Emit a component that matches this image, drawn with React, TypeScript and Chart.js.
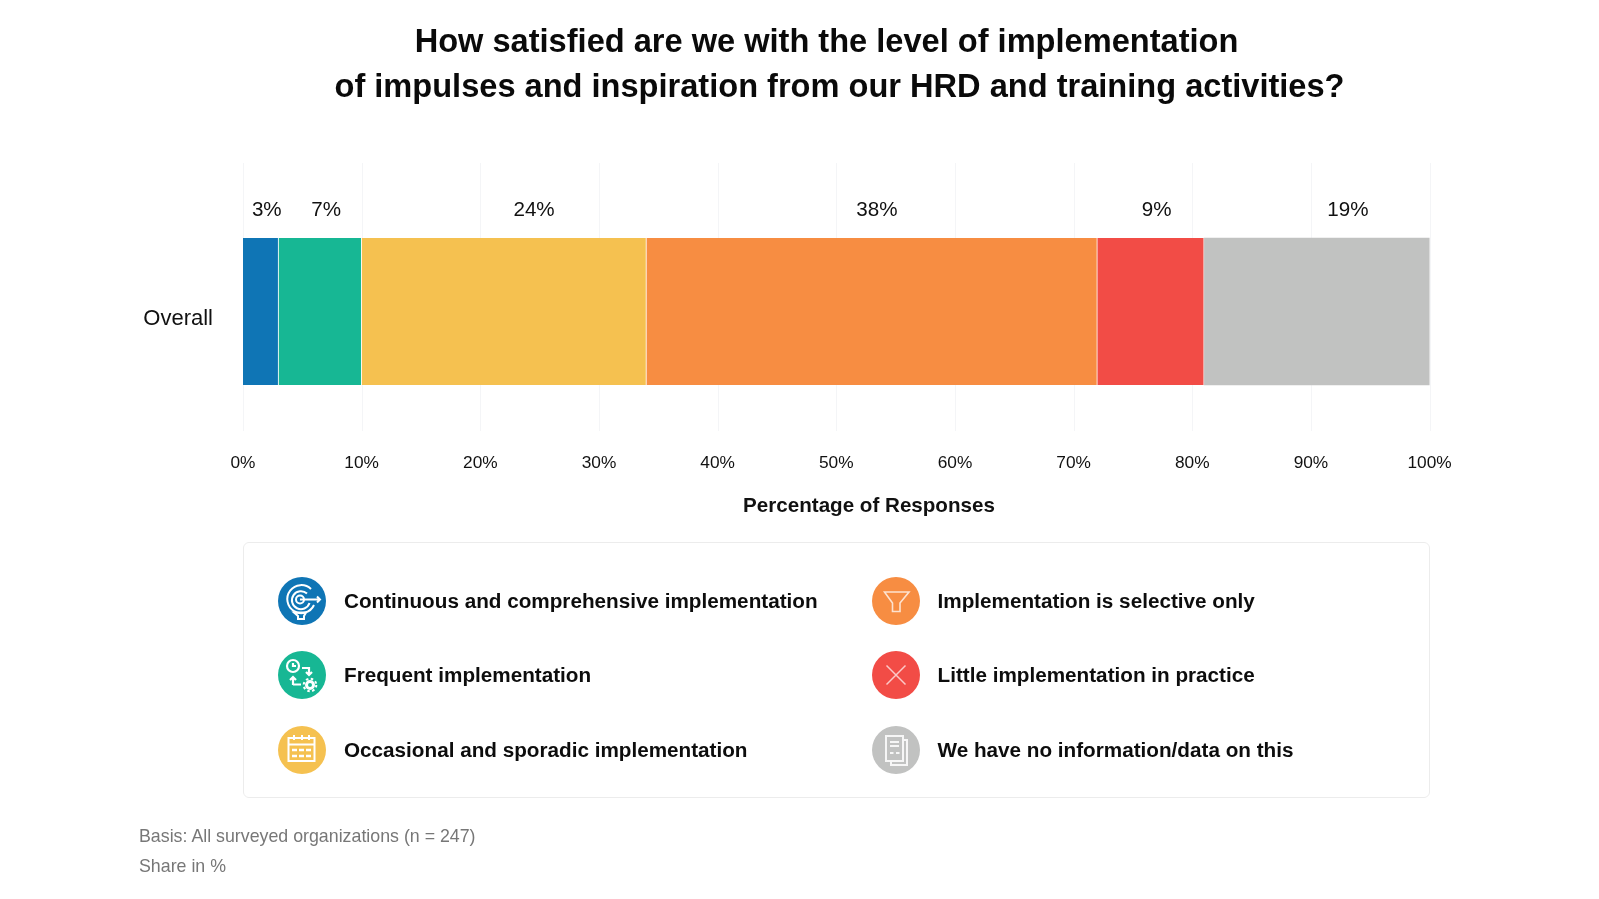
import { useEffect, useRef } from "react"
import { Chart, registerables } from "chart.js"

Chart.register(...registerables)

const FONT = '"Liberation Sans", Arial, sans-serif'

const categories = ["Overall"]
const tickStep = 10
const continuous = [3]
const frequent = [7]
const occasional = [24]
const selective = [38]
const little = [9]
const noData = [19]

const seriesNames = [
  "Continuous and comprehensive implementation",
  "Frequent implementation",
  "Occasional and sporadic implementation",
  "Implementation is selective only",
  "Little implementation in practice",
  "We have no information/data on this",
]
const seriesValues = [continuous, frequent, occasional, selective, little, noData]
const seriesColors = ["#0f75b5", "#17b794", "#f5c150", "#f78d42", "#f24c46", "#c1c2c1"]

// the value labels are not centred on their segments in the original
const labelShift = [6, 6, 30, 5, 6, 31]

const titleLines = [
  "How satisfied are we with the level of implementation",
  "of impulses and inspiration from our HRD and training activities?",
]
const axisTitle = "Percentage of Responses"
const footnotes = ["Basis: All surveyed organizations (n = 247)", "Share in %"]

const PLOT_LEFT = 243
const PLOT_RIGHT = 1429.6
const PLOT_TOP = 192
const PLOT_BOTTOM = 431
const GRID_TOP = 163

const segmentLabels = {
  id: "segmentLabels",
  afterDatasetsDraw(chart: Chart) {
    const { ctx } = chart
    ctx.save()
    ctx.font = `20.6px ${FONT}`
    ctx.fillStyle = "#111"
    ctx.textAlign = "center"
    ctx.textBaseline = "middle"
    chart.data.datasets.forEach((ds, i) => {
      const bar: any = chart.getDatasetMeta(i).data[0]
      ctx.fillText(`${ds.data[0]}%`, (bar.x + bar.base) / 2 + labelShift[i], 210.5)
    })
    ctx.restore()
  },
}

// grid lines run above the plot area, past the value labels
const tallGrid = {
  id: "tallGrid",
  beforeDatasetsDraw(chart: Chart) {
    const { ctx, scales, chartArea } = chart
    ctx.save()
    ctx.strokeStyle = "#f4f5f7"
    ctx.lineWidth = 1
    scales.x.ticks.forEach((t) => {
      const x = Math.round(scales.x.getPixelForValue(t.value)) + 0.5
      ctx.beginPath()
      ctx.moveTo(x, GRID_TOP)
      ctx.lineTo(x, chartArea.bottom)
      ctx.stroke()
    })
    ctx.restore()
  },
}

function Icon({ index }: { index: number }) {
  const s = { fill: "none", stroke: "#fff" }
  const shapes = [
    <g {...s} key="target" strokeWidth={2}>
      <path d="M33 12 a14 14 0 1 0 3 16" />
      <path d="M29 16.5 a9 9 0 1 0 2.5 9.5" />
      <circle cx="22" cy="22.5" r="4" />
      <path d="M22 22.5 H42 M39 19.5 l3 3 -3 3" />
      <path d="M16 35.5 H28 L26 39 V42 H20 V39 Z" />
    </g>,
    <g {...s} key="clock" strokeWidth={2.2}>
      <circle cx="15" cy="15" r="6" />
      <path d="M15 12 v3 h3 M24 17 h7 v7 M28 21 l3 3 3 -3" />
      <path d="M15 34 v-7 M12 29 l3 -3 3 3 M15 33.5 h8" />
      <circle cx="32" cy="34" r="3.5" strokeWidth={3} />
      <circle cx="32" cy="34" r="6.3" strokeWidth={2} strokeDasharray="2.5 2.45" />
    </g>,
    <g {...s} key="calendar" strokeWidth={2}>
      <rect x="10.5" y="12" width="26" height="23" />
      <path d="M10.5 18.5 H36.5 M16 9 v5 M24 9 v5 M31 9 v5" />
      <path d="M14 24 h5 M21 24 h5 M28 24 h5 M14 30 h5 M21 30 h5 M28 30 h5" strokeWidth={2.6} />
    </g>,
    <path {...s} key="funnel" strokeWidth={1.6} strokeOpacity={0.75} d="M12.5 15 H37 L28 26 V34.5 H20.5 V26 Z" />,
    <path {...s} key="cross" strokeWidth={1.5} strokeOpacity={0.7} d="M14.5 14.5 L33.5 33.5 M33.5 14.5 L14.5 33.5" />,
    <g {...s} key="doc" strokeWidth={2} strokeOpacity={0.85}>
      <path d="M14 10 H31 V35 H14 Z M31 14 H35 V39 H19 V35" />
      <path d="M18 16 H27 M18 20 H27 M18 27 h3.5 M24 27 h3.5" />
    </g>,
  ]
  return (
    <svg width={48} height={48} viewBox="0 0 48 48" style={{ position: "absolute", left: -24, top: -24 }}>
      <circle cx="24" cy="24" r="24" fill={seriesColors[index]} />
      {shapes[index]}
    </svg>
  )
}

const legendCols = [302, 895.5]
const legendRows = [601, 675, 750]

export default function App() {
  const chartRef = useRef<HTMLCanvasElement>(null)

  useEffect(() => {
    if (!chartRef.current) return
    const chart = new Chart(chartRef.current, {
      type: "bar",
      data: {
        labels: categories,
        datasets: seriesNames.map((name, i) => ({
          label: name,
          data: seriesValues[i],
          backgroundColor: seriesColors[i],
          borderColor: "rgba(255,255,255,0.4)",
          borderWidth: { left: 0, right: i < seriesNames.length - 1 ? 1 : 0, top: 0, bottom: 0 },
          borderSkipped: false,
          barThickness: 147,
        })),
      },
      options: {
        indexAxis: "y",
        responsive: false,
        animation: false,
        layout: { padding: { top: PLOT_TOP, right: 1599 - PLOT_RIGHT, left: 0, bottom: 0 } },
        plugins: { legend: { display: false }, title: { display: false }, tooltip: { enabled: false } },
        scales: {
          x: {
            stacked: true,
            min: 0,
            max: 100,
            afterFit: (s: any) => {
              s.height = 899 - PLOT_BOTTOM
            },
            border: { display: false },
            grid: { display: false, drawTicks: false },
            ticks: {
              stepSize: tickStep,
              padding: 22,
              maxRotation: 0,
              color: "#111",
              font: { family: FONT, size: 17.3 },
              callback: (v: any) => `${v}%`,
            },
          },
          y: {
            stacked: true,
            afterFit: (s: any) => {
              s.width = PLOT_LEFT
            },
            border: { display: false },
            grid: { display: false, drawTicks: false },
            ticks: {
              padding: 30,
              labelOffset: 7,
              color: "#111",
              font: { family: FONT, size: 22 },
            },
          },
        },
      },
      plugins: [tallGrid, segmentLabels],
    })
    return () => chart.destroy()
  }, [])

  const abs = { position: "absolute" as const, fontFamily: FONT, whiteSpace: "nowrap" as const }

  return (
    <div style={{ position: "absolute", left: 0, top: 0, width: 1599, height: 899, background: "#fff", overflow: "hidden" }}>
      <canvas ref={chartRef} width={1599} height={899} style={{ position: "absolute", left: 0, top: 0 }} />
      {titleLines.map((line, i) => (
        <div
          key={line}
          style={{
            ...abs,
            left: i === 0 ? 826.5 : 839.5,
            top: 41 + i * 45,
            transform: "translate(-50%, -50%)",
            fontSize: 32.6,
            fontWeight: 700,
            color: "#0a0a0a",
          }}
        >
          {line}
        </div>
      ))}
      <div style={{ ...abs, left: 869, top: 505, transform: "translate(-50%, -50%)", fontSize: 20.6, fontWeight: 700, color: "#111" }}>
        {axisTitle}
      </div>
      <div
        style={{
          position: "absolute",
          left: 243,
          top: 541.5,
          width: 1187,
          height: 256,
          boxSizing: "border-box",
          border: "1px solid #ececec",
          borderRadius: 6,
        }}
      />
      {seriesNames.map((name, i) => {
        const col = legendCols[i < 3 ? 0 : 1]
        const row = legendRows[i % 3]
        return (
          <div key={name}>
            <div style={{ position: "absolute", left: col, top: row }}>
              <Icon index={i} />
            </div>
            <div
              style={{
                ...abs,
                left: col + 42,
                top: row,
                transform: "translateY(-50%)",
                fontSize: 20.7,
                fontWeight: 700,
                color: "#0d0d0d",
              }}
            >
              {name}
            </div>
          </div>
        )
      })}
      {footnotes.map((line, i) => (
        <div
          key={line}
          style={{ ...abs, left: 139, top: 835.5 + i * 30, transform: "translateY(-50%)", fontSize: 17.8, color: "#777" }}
        >
          {line}
        </div>
      ))}
    </div>
  )
}
